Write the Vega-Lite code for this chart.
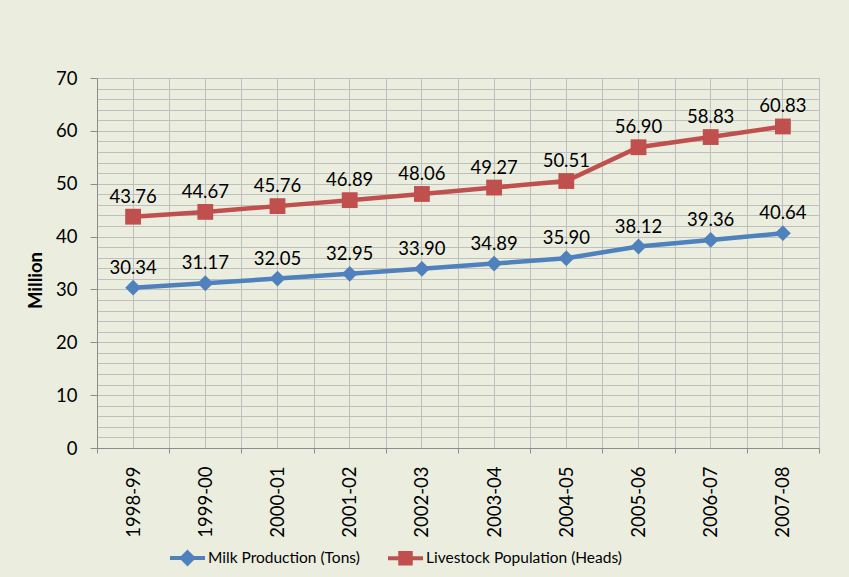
{
  "$schema": "https://vega.github.io/schema/vega-lite/v6.json",
  "width": 722,
  "height": 370,
  "autosize": "none",
  "padding": {"left": 97, "top": 78, "right": 30, "bottom": 129},
  "background": "#EBEEDF",
  "config": {
    "view": {"stroke": null},
    "font": "Lato",
    "axis": {
      "gridColor": "#BFBFBF",
      "gridWidth": 1,
      "gridOpacity": 1,
      "domainColor": "#8C8C8C",
      "domainWidth": 1,
      "tickColor": "#8C8C8C",
      "labelColor": "#000000",
      "labelFont": "Lato",
      "labelFontSize": 18.5
    }
  },
  "data": {
    "values": [
      {"year": "1998-99", "series": "Milk Production (Tons)", "value": 30.34},
      {"year": "1999-00", "series": "Milk Production (Tons)", "value": 31.17},
      {"year": "2000-01", "series": "Milk Production (Tons)", "value": 32.05},
      {"year": "2001-02", "series": "Milk Production (Tons)", "value": 32.95},
      {"year": "2002-03", "series": "Milk Production (Tons)", "value": 33.90},
      {"year": "2003-04", "series": "Milk Production (Tons)", "value": 34.89},
      {"year": "2004-05", "series": "Milk Production (Tons)", "value": 35.90},
      {"year": "2005-06", "series": "Milk Production (Tons)", "value": 38.12},
      {"year": "2006-07", "series": "Milk Production (Tons)", "value": 39.36},
      {"year": "2007-08", "series": "Milk Production (Tons)", "value": 40.64},
      {"year": "1998-99", "series": "Livestock Population (Heads)", "value": 43.76},
      {"year": "1999-00", "series": "Livestock Population (Heads)", "value": 44.67},
      {"year": "2000-01", "series": "Livestock Population (Heads)", "value": 45.76},
      {"year": "2001-02", "series": "Livestock Population (Heads)", "value": 46.89},
      {"year": "2002-03", "series": "Livestock Population (Heads)", "value": 48.06},
      {"year": "2003-04", "series": "Livestock Population (Heads)", "value": 49.27},
      {"year": "2004-05", "series": "Livestock Population (Heads)", "value": 50.51},
      {"year": "2005-06", "series": "Livestock Population (Heads)", "value": 56.90},
      {"year": "2006-07", "series": "Livestock Population (Heads)", "value": 58.83},
      {"year": "2007-08", "series": "Livestock Population (Heads)", "value": 60.83}
    ]
  },
  "layer": [
    {
      "mark": {"type": "line", "strokeWidth": 4.5},
      "encoding": {
        "x": {
          "field": "year", "type": "nominal", "sort": null,
          "scale": {"type": "band", "paddingInner": 0, "paddingOuter": 0},
          "axis": {"title": null, "orient": "bottom", "tickBand": "extent", "grid": true, "labelAngle": -90, "tickSize": 5, "labelPadding": 13, "domain": true}
        },
        "y": {
          "field": "value", "type": "quantitative",
          "scale": {"domain": [0, 70], "nice": false},
          "axis": {
            "orient": "left", "values": [0, 10, 20, 30, 40, 50, 60, 70], "grid": true, "tickSize": 7, "labelPadding": 13,
            "title": "Million", "titleFont": "Lato", "titleFontSize": 18.5, "titleFontWeight": "bold", "titleColor": "#000000",
            "titleX": -62, "titleY": 202, "titleAlign": "center", "titleBaseline": "middle", "titleAngle": -90
          }
        },
        "color": {
          "field": "series", "type": "nominal",
          "scale": {"domain": ["Milk Production (Tons)", "Livestock Population (Heads)"], "range": ["#4F81BD", "#C0504D"]},
          "legend": {
            "orient": "none", "legendX": 71, "legendY": 460, "direction": "horizontal", "title": null,
            "symbolSize": 1225, "symbolStrokeWidth": 4, "labelFont": "Lato", "labelFontSize": 15.5, "labelColor": "#000000",
            "labelOffset": 1, "columnPadding": 20, "labelLimit": 400,
            "encode": {
              "symbols": {
                "update": {
                  "shape": {"signal": "datum.value === 'Milk Production (Tons)' ? 'M-1,0H1M0,-0.32L0.32,0L0,0.32L-0.32,0Z' : 'M-1,0H1M-0.3,-0.3H0.3V0.3H-0.3Z'"},
                  "fill": {"scale": "color", "field": "value"},
                  "stroke": {"scale": "color", "field": "value"},
                  "opacity": {"value": 1}
                }
              }
            }
          }
        }
      }
    },
    {
      "transform": [{"filter": "datum.series === 'Milk Production (Tons)'"}],
      "mark": {"type": "point", "filled": true, "size": 250, "opacity": 1, "shape": "diamond"},
      "encoding": {
        "x": {"field": "year", "type": "nominal", "sort": null, "axis": {"orient": "bottom", "title": null, "grid": true, "labels": false, "ticks": false, "domain": false}},
        "y": {"field": "value", "type": "quantitative", "axis": {"orient": "left", "title": null, "values": [0, 2, 4, 6, 8, 10, 12, 14, 16, 18, 20, 22, 24, 26, 28, 30, 32, 34, 36, 38, 40, 42, 44, 46, 48, 50, 52, 54, 56, 58, 60, 62, 64, 66, 68, 70], "grid": true, "labels": false, "ticks": false, "domain": false}},
        "color": {"field": "series", "type": "nominal"}
      }
    },
    {
      "transform": [{"filter": "datum.series === 'Livestock Population (Heads)'"}],
      "mark": {"type": "point", "filled": true, "size": 250, "opacity": 1, "shape": "square"},
      "encoding": {
        "x": {"field": "year", "type": "nominal", "sort": null, "axis": null},
        "y": {"field": "value", "type": "quantitative", "axis": null},
        "color": {"field": "series", "type": "nominal"}
      }
    },
    {
      "mark": {"type": "text", "dy": -14, "baseline": "alphabetic", "fontSize": 18.5, "font": "Lato", "color": "#000000"},
      "encoding": {
        "x": {"field": "year", "type": "nominal", "sort": null, "axis": null},
        "y": {"field": "value", "type": "quantitative", "axis": null},
        "text": {"field": "value", "type": "quantitative", "format": ".2f"}
      }
    }
  ],
  "resolve": {"axis": {"x": "independent", "y": "independent"}}
}
